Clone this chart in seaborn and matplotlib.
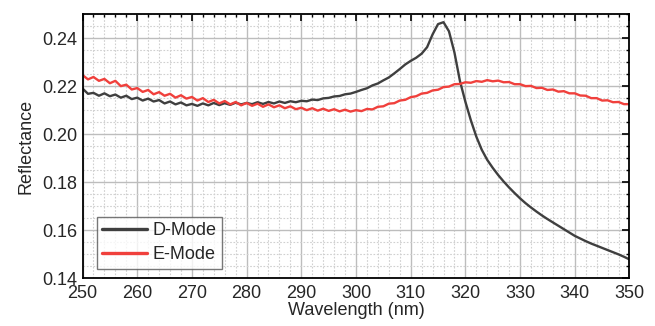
import seaborn as sns
import matplotlib.pyplot as plt
import matplotlib.ticker as mticker
import pandas as pd

wavelength = list(range(250, 351))

d_mode = [
    0.2190, 0.2168, 0.2172, 0.2160, 0.2170, 0.2158, 0.2165, 0.2152, 0.2160, 0.2146,
    0.2152, 0.2140, 0.2148, 0.2136, 0.2142, 0.2128, 0.2136, 0.2124, 0.2132, 0.2120,
    0.2126, 0.2118, 0.2128, 0.2120, 0.2130, 0.2121, 0.2129, 0.2122, 0.2131, 0.2124,
    0.2130, 0.2125, 0.2133, 0.2126, 0.2134, 0.2128, 0.2136, 0.2130, 0.2137, 0.2133,
    0.2139, 0.2137, 0.2144, 0.2142, 0.2149, 0.2151, 0.2157, 0.2159, 0.2166, 0.2169,
    0.2176, 0.2184, 0.2191, 0.2203, 0.2211, 0.2224, 0.2236, 0.2253, 0.2271, 0.2290,
    0.2305, 0.2318, 0.2335, 0.2362, 0.2415, 0.2458, 0.2466, 0.2428, 0.2340, 0.2222,
    0.2135, 0.2058, 0.1990, 0.1935, 0.1893, 0.1860, 0.1830, 0.1803, 0.1778, 0.1755,
    0.1733, 0.1713, 0.1695, 0.1678, 0.1662, 0.1647, 0.1633, 0.1619, 0.1605, 0.1591,
    0.1577, 0.1566, 0.1555, 0.1545, 0.1536, 0.1527, 0.1518, 0.1509, 0.1500, 0.1490,
    0.1479,
]

e_mode = [
    0.2246, 0.2228, 0.2238, 0.2222, 0.2230, 0.2212, 0.2222, 0.2200, 0.2206, 0.2186,
    0.2192, 0.2176, 0.2184, 0.2166, 0.2175, 0.2160, 0.2168, 0.2152, 0.2162, 0.2148,
    0.2155, 0.2140, 0.2150, 0.2134, 0.2143, 0.2128, 0.2138, 0.2124, 0.2134, 0.2120,
    0.2130, 0.2118, 0.2127, 0.2114, 0.2124, 0.2112, 0.2120, 0.2108, 0.2116, 0.2104,
    0.2110, 0.2100, 0.2108, 0.2098, 0.2106, 0.2097, 0.2104, 0.2095, 0.2102, 0.2094,
    0.2100, 0.2096, 0.2105, 0.2103, 0.2114, 0.2116, 0.2127, 0.2129, 0.2140, 0.2143,
    0.2154, 0.2158, 0.2169, 0.2172, 0.2182, 0.2185, 0.2196, 0.2198, 0.2208, 0.2209,
    0.2216, 0.2214, 0.2221, 0.2218, 0.2225, 0.2220, 0.2223, 0.2216, 0.2217, 0.2208,
    0.2208, 0.2200, 0.2201, 0.2192, 0.2193, 0.2184, 0.2186, 0.2177, 0.2179, 0.2170,
    0.2170, 0.2161, 0.2160, 0.2150, 0.2150, 0.2140, 0.2141, 0.2133, 0.2134, 0.2125,
    0.2125,
]

df = pd.DataFrame({
    'Wavelength': wavelength * 2,
    'Reflectance': d_mode + e_mode,
    'Mode': ['D-Mode'] * len(d_mode) + ['E-Mode'] * len(e_mode),
})

sns.set_style('white')
plt.rcParams['font.family'] = ['Liberation Sans', 'DejaVu Sans']

fig = plt.figure(figsize=(6.55, 3.26), dpi=100)
ax = fig.add_axes([0.126, 0.146, 0.835, 0.811])

ax.grid(True, which='major', color='#bdbdbd', linewidth=1.0, linestyle='-')
ax.grid(True, which='minor', color='#d0d0d0', linewidth=0.8, linestyle=(0, (1.5, 1.5)))
ax.set_axisbelow(True)

sns.lineplot(data=df, x='Wavelength', y='Reflectance', hue='Mode',
             palette={'D-Mode': '#3f3f3f', 'E-Mode': '#f0403c'},
             linewidth=1.7, ax=ax)

ax.set_xlim(250, 350)
ax.set_ylim(0.14, 0.25)
ax.xaxis.set_major_locator(mticker.MultipleLocator(10))
ax.xaxis.set_minor_locator(mticker.MultipleLocator(2))
ax.yaxis.set_major_locator(mticker.MultipleLocator(0.02))
ax.yaxis.set_minor_locator(mticker.MultipleLocator(0.005))
ax.yaxis.set_major_formatter(mticker.FormatStrFormatter('%.2f'))

ax.tick_params(which='both', direction='in', top=True, right=True,
               labeltop=False, labelright=False, color='black')
ax.tick_params(which='major', length=5, width=1.2, labelsize=13)
ax.tick_params(axis='x', which='major', pad=5)
ax.tick_params(axis='y', which='major', pad=4)
ax.tick_params(which='minor', length=2.5, width=1.0)
for s in ax.spines.values():
    s.set_color('black')
    s.set_linewidth(1.3)

ax.set_xlabel('Wavelength (nm)', fontsize=13, labelpad=0)
ax.set_ylabel('Reflectance', fontsize=13, labelpad=5)

leg = ax.legend(loc='lower left', bbox_to_anchor=(0.026, 0.036), fontsize=13,
                handlelength=2.5, frameon=True, fancybox=False, borderpad=0.3,
                labelspacing=0.4, handletextpad=0.3, borderaxespad=0)
leg.get_frame().set_edgecolor('#555555')
leg.get_frame().set_linewidth(1.0)
for line in leg.get_lines():
    line.set_linewidth(2.4)

fig.savefig('out.png', dpi=100)
